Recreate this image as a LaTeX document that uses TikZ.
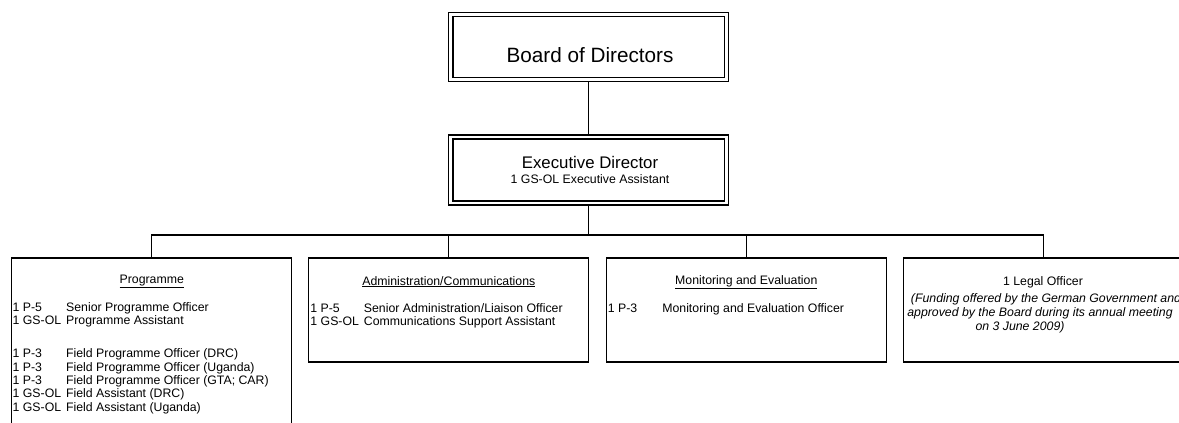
\documentclass[tikz,border=0pt]{standalone}
\usepackage{fontspec}
\setmainfont{Liberation Sans}
\usepackage{tikz}
\usetikzlibrary{positioning}

\begin{document}
\begin{tikzpicture}[
                x=1pt, y=-1pt,
                line width=1.3pt,
                headbox/.style={draw, rectangle, double, double distance=2.9pt, outer sep=2.8pt, minimum width=275.5pt, inner sep=0pt},
                unitbox/.style={draw, rectangle, minimum width=280pt, inner sep=0pt},
                small/.style={font=\fontsize{12.3}{13.3}\selectfont, inner sep=0pt},
                stafflist/.style={small, anchor=base west, align=left}
            ]
            \useasboundingbox (0, 0) rectangle (1179, 423);
            \clip (0, 0) rectangle (1179, 423);
            \node[headbox, minimum height=64.8pt] (board) at (588.5, 47.1) {};
            \node[headbox, minimum height=66pt] (exec) at (588.5, 170) {};
            \node[unitbox, minimum height=200pt] (prog) at (151.8, 358) {};
            \node[unitbox, minimum height=104pt] (admin) at (448.8, 310) {};
            \node[unitbox, minimum height=104pt] (monit) at (746.3, 310) {};
            \node[unitbox, minimum height=104pt] (legal) at (1043.2, 310) {};
            \coordinate (bar) at (588.5, 235);
            \draw (board.south) -- (exec.north);
            \draw (exec.south) -- (bar);
            \draw (prog.north) |- (bar) -| (legal.north);
            \draw (admin.north) -- (admin.north |- bar);
            \draw (monit.north) -- (monit.north |- bar);
            \node[font=\fontsize{20.7}{24}\selectfont, anchor=base, inner sep=0pt] (boardname) at (590, 62) {Board of Directors};
            \node[font=\fontsize{16.8}{20}\selectfont, anchor=base, inner sep=0pt] (execname) at (590, 168.3) {Executive Director};
            \node[small, anchor=base] (execstaff) at (590, 183.3) {1 GS-OL Executive Assistant};
            \node[small, anchor=base] (progname) at (151.8, 283) {\underline{Programme}};
            \node[stafflist] (progstaff) at (12, 311) {\begin{tabular}[t]{@{}p{53.5pt}@{}l@{}}
                1 P-5 & Senior Programme Officer\\
                1 GS-OL & Programme Assistant\\[20.2pt]
                1 P-3 & Field Programme Officer (DRC)\\
                1 P-3 & Field Programme Officer (Uganda)\\
                1 P-3 & Field Programme Officer (GTA; CAR)\\
                1 GS-OL & Field Assistant (DRC)\\
                1 GS-OL & Field Assistant (Uganda)
            \end{tabular}};
            \node[small, anchor=base] (adminname) at (448.8, 285) {\underline{Administration/Communications}};
            \node[stafflist] (adminstaff) at (309.8, 312.3) {\begin{tabular}[t]{@{}p{53.5pt}@{}l@{}}
                1 P-5 & Senior Administration/Liaison Officer\\
                1 GS-OL & Communications Support Assistant
            \end{tabular}};
            \node[small, anchor=base] (monitname) at (746.3, 284) {\underline{Monitoring and Evaluation}};
            \node[stafflist] (monitstaff) at (607.2, 312.3) {\begin{tabular}[t]{@{}p{54.5pt}@{}l@{}}
                1 P-3 & Monitoring and Evaluation Officer
            \end{tabular}};
            \node[small, anchor=base] (legalname) at (1043, 285) {1 Legal Officer};
            \node[small, anchor=base, font=\fontsize{12.3}{13.3}\selectfont\itshape] (legalnoteA) at (1046, 302.7) {(Funding offered by the German Government and};
            \node[small, anchor=base, font=\fontsize{12.3}{13.3}\selectfont\itshape] (legalnoteB) at (1040, 316.7) {approved by the Board during its annual meeting};
            \node[small, anchor=base, font=\fontsize{12.3}{13.3}\selectfont\itshape] (legalnoteC) at (1020, 330) {on 3 June 2009)};
        \end{tikzpicture}
\end{document}
